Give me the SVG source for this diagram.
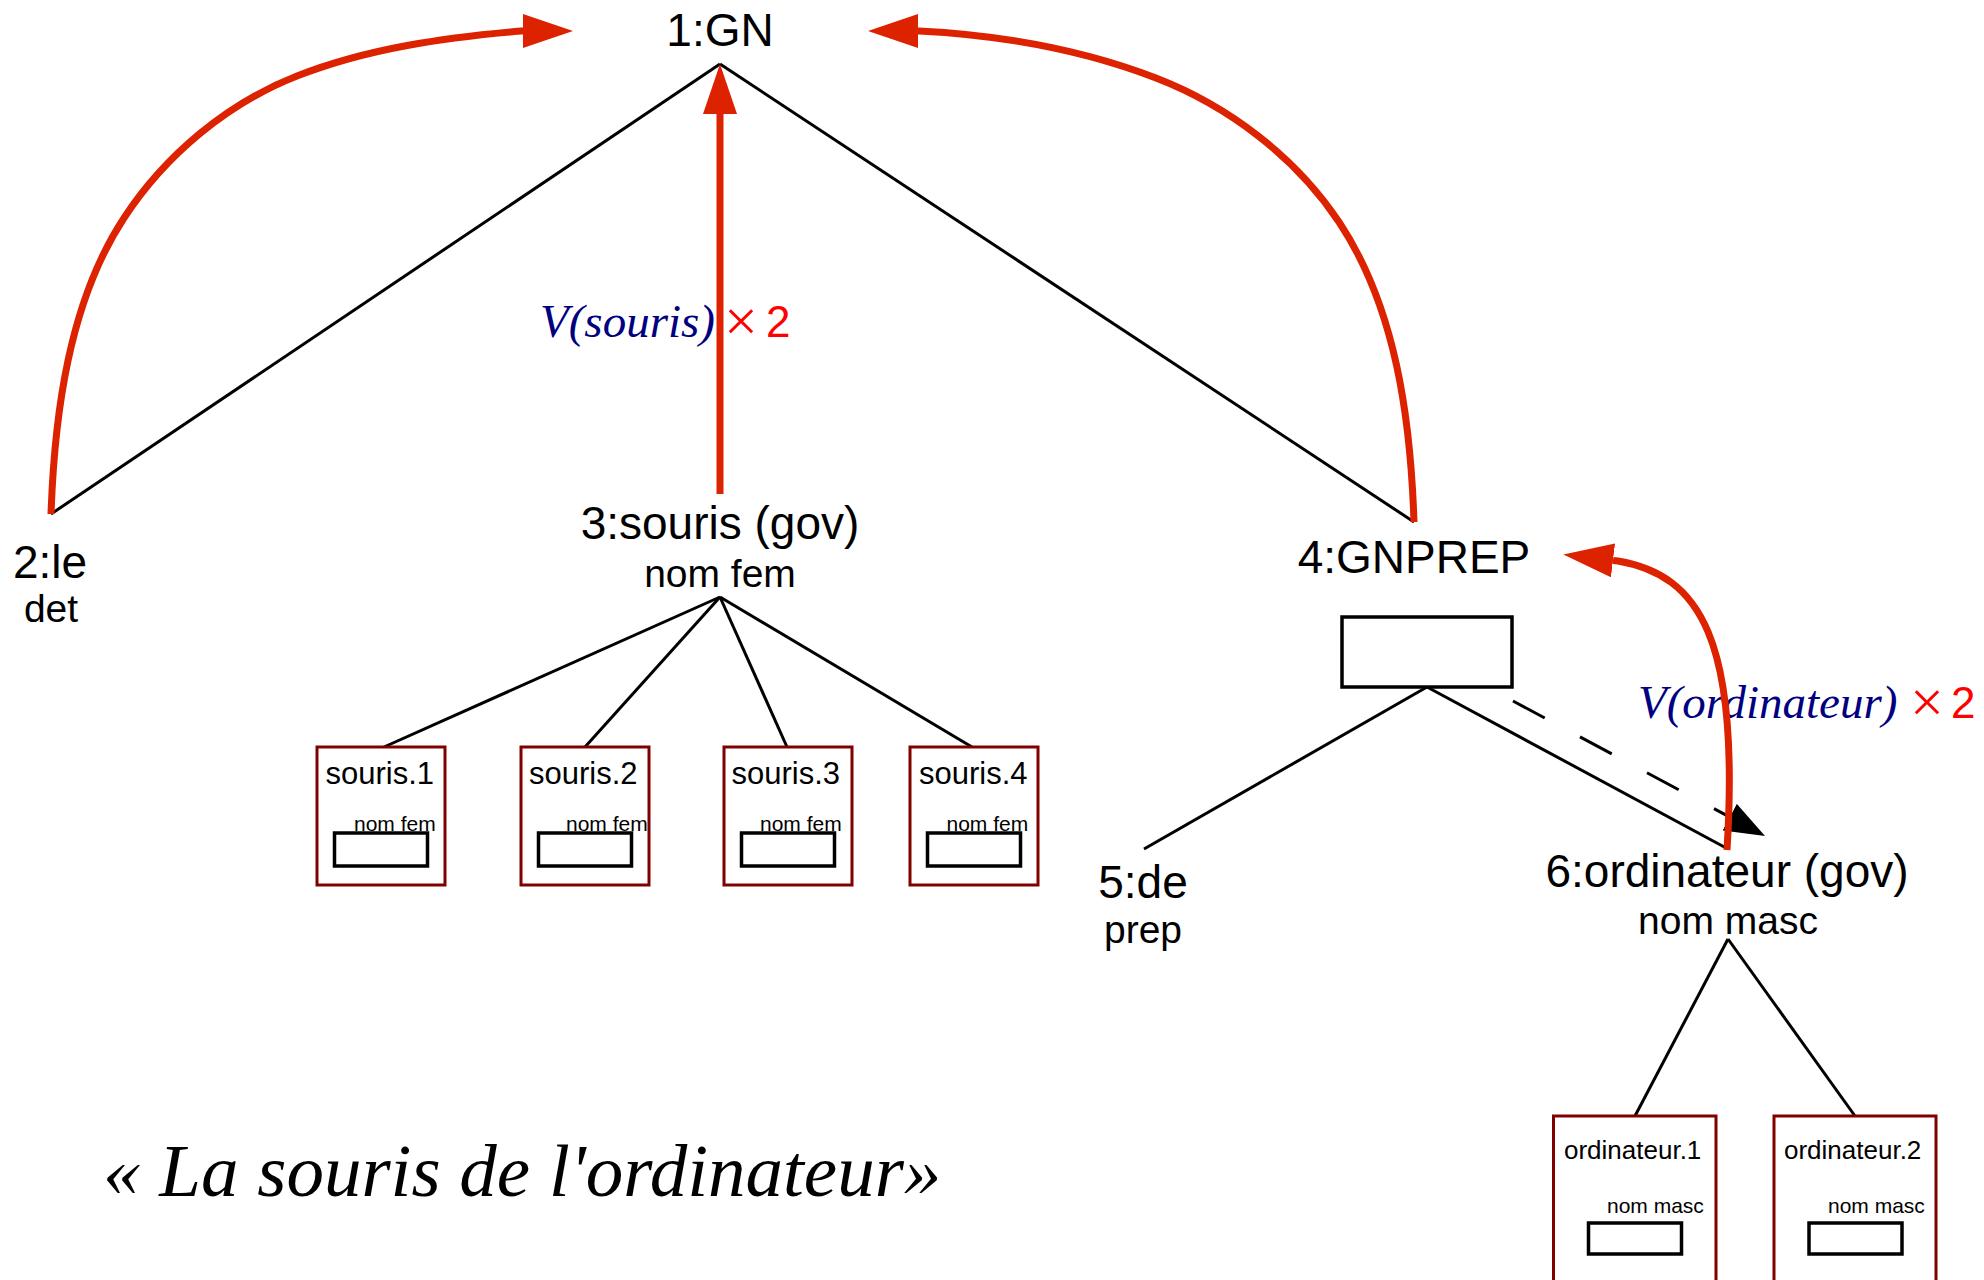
<svg xmlns="http://www.w3.org/2000/svg" width="1984" height="1280" viewBox="0 0 1984 1280">
<style>
text{font-family:"Liberation Sans",Arial,sans-serif;fill:#000}
.big{font-size:46px;text-anchor:middle}
.sub{font-size:39px;text-anchor:middle}
.ln{stroke:#000;stroke-width:3;fill:none}
.dash{stroke:#000;stroke-width:3;fill:none;stroke-dasharray:36 40}
.red{stroke:#dd2200;stroke-width:7;fill:none;stroke-linejoin:round}
.box{fill:#fff;stroke:#800000;stroke-width:3}
.inner{fill:none;stroke:#000;stroke-width:3.5}
.bt{font-size:31px}
.ot{font-size:26px}
.st{font-size:21px}
.v{font-family:"Liberation Serif","Times New Roman",serif;font-style:italic;font-size:47px;fill:#000080}
.times{font-family:"Liberation Serif","Times New Roman",serif;font-size:60px;fill:#ff0000}
.two{font-family:"Liberation Sans",Arial,sans-serif;font-size:44px;fill:#ff0000}
.phrase{font-family:"Liberation Serif","Times New Roman",serif;font-style:italic;font-size:75px}
</style>
<defs>
<marker id="redhead" markerUnits="userSpaceOnUse" viewBox="0 0 50 34" refX="0" refY="17" markerWidth="50" markerHeight="34" orient="auto">
<path d="M0,0 L50,17 L0,34 Z" fill="#dd2200"/>
</marker>
<marker id="blackhead" markerUnits="userSpaceOnUse" viewBox="0 0 40 30" refX="40" refY="15" markerWidth="40" markerHeight="30" orient="auto">
<path d="M0,0 L40,15 L0,30 Z" fill="#000"/>
</marker>
</defs>
<rect width="1984" height="1280" fill="#fff"/>

<g id="connectors">
<line class="ln" x1="720" y1="64" x2="51" y2="514"/>
<line class="ln" x1="720" y1="64" x2="1414" y2="522"/>
<line class="ln" x1="720" y1="597" x2="384" y2="747"/>
<line class="ln" x1="720" y1="597" x2="585" y2="747"/>
<line class="ln" x1="720" y1="597" x2="787" y2="747"/>
<line class="ln" x1="720" y1="597" x2="972" y2="747"/>
<line class="ln" x1="1427" y1="687" x2="1144" y2="849"/>
<line class="ln" x1="1427" y1="687" x2="1728" y2="849"/>
<line class="ln" x1="1728" y1="939" x2="1635" y2="1116"/>
<line class="ln" x1="1728" y1="939" x2="1855" y2="1116"/>
<path class="dash" d="M1513,701 L1765,836" marker-end="url(#blackhead)"/>
</g>

<g id="node1"><text class="big" x="720" y="46">1:GN</text></g>
<g id="node2"><text class="big" x="50" y="578">2:le</text><text class="sub" x="51" y="622">det</text></g>
<g id="node3"><text class="big" x="720" y="539">3:souris (gov)</text><text class="sub" x="720" y="587">nom fem</text></g>
<g id="node4"><text class="big" x="1414" y="573">4:GNPREP</text><rect x="1342" y="617" width="170" height="70" class="inner"/></g>
<g id="node5"><text class="big" x="1143" y="898">5:de</text><text class="sub" x="1143" y="943">prep</text></g>
<g id="node6"><text class="big" x="1727" y="887">6:ordinateur (gov)</text><text class="sub" x="1728" y="934">nom masc</text></g>

<g id="souris1"><rect class="box" x="317" y="747" width="128" height="138"/><text class="bt" x="325.5" y="784">souris.1</text><text class="st" x="354" y="831">nom fem</text><rect class="inner" x="334.5" y="833" width="93" height="33"/></g>
<g id="souris2"><rect class="box" x="521" y="747" width="128" height="138"/><text class="bt" x="529" y="784">souris.2</text><text class="st" x="566" y="831">nom fem</text><rect class="inner" x="538.5" y="833" width="93" height="33"/></g>
<g id="souris3"><rect class="box" x="724" y="747" width="128" height="138"/><text class="bt" x="731.5" y="784">souris.3</text><text class="st" x="760" y="831">nom fem</text><rect class="inner" x="741.5" y="833" width="93" height="33"/></g>
<g id="souris4"><rect class="box" x="910" y="747" width="128" height="138"/><text class="bt" x="919" y="784">souris.4</text><text class="st" x="946.5" y="831">nom fem</text><rect class="inner" x="927.5" y="833" width="93" height="33"/></g>

<g id="ordinateur1"><rect class="box" x="1553.5" y="1116" width="162.5" height="200"/><text class="ot" x="1564" y="1159">ordinateur.1</text><text class="st" x="1607" y="1213">nom masc</text><rect class="inner" x="1588.5" y="1223" width="93" height="31"/></g>
<g id="ordinateur2"><rect class="box" x="1774" y="1116" width="162" height="200"/><text class="ot" x="1784" y="1159">ordinateur.2</text><text class="st" x="1828" y="1213">nom masc</text><rect class="inner" x="1809" y="1223" width="93" height="31"/></g>

<g id="label-souris"><text class="v" x="540" y="337">V(souris)</text><text class="times" x="724" y="341">×</text><text class="two" x="766" y="337">2</text></g>
<g id="label-ordinateur"><text class="v" x="1638" y="718">V(ordinateur)</text><text class="times" x="1910" y="722">×</text><text class="two" x="1951" y="718">2</text></g>

<g id="red-arrows">
<path class="red" d="M51,514 C54.5,414 69,301.5 124,218 C165,155.4 227,103.4 297,76 C367.7,48.2 445.3,37.4 521,31 L523,31" marker-end="url(#redhead)"/>
<path class="red" d="M720,494 L720,114" marker-end="url(#redhead)"/>
<path class="red" d="M1414,522 C1410.6,419 1396,307.7 1339,222 C1295.7,157.1 1228.8,106.1 1156,78 C1081.4,49.2 999,35 919,31 L918,31" marker-end="url(#redhead)"/>
<path class="red" d="M1727,850 C1740,640 1700,575 1618,561 L1613,560.4" marker-end="url(#redhead)"/>
</g>

<g id="phrase"><text class="phrase" x="103" y="1196">« La souris de l'ordinateur»</text></g>
</svg>
